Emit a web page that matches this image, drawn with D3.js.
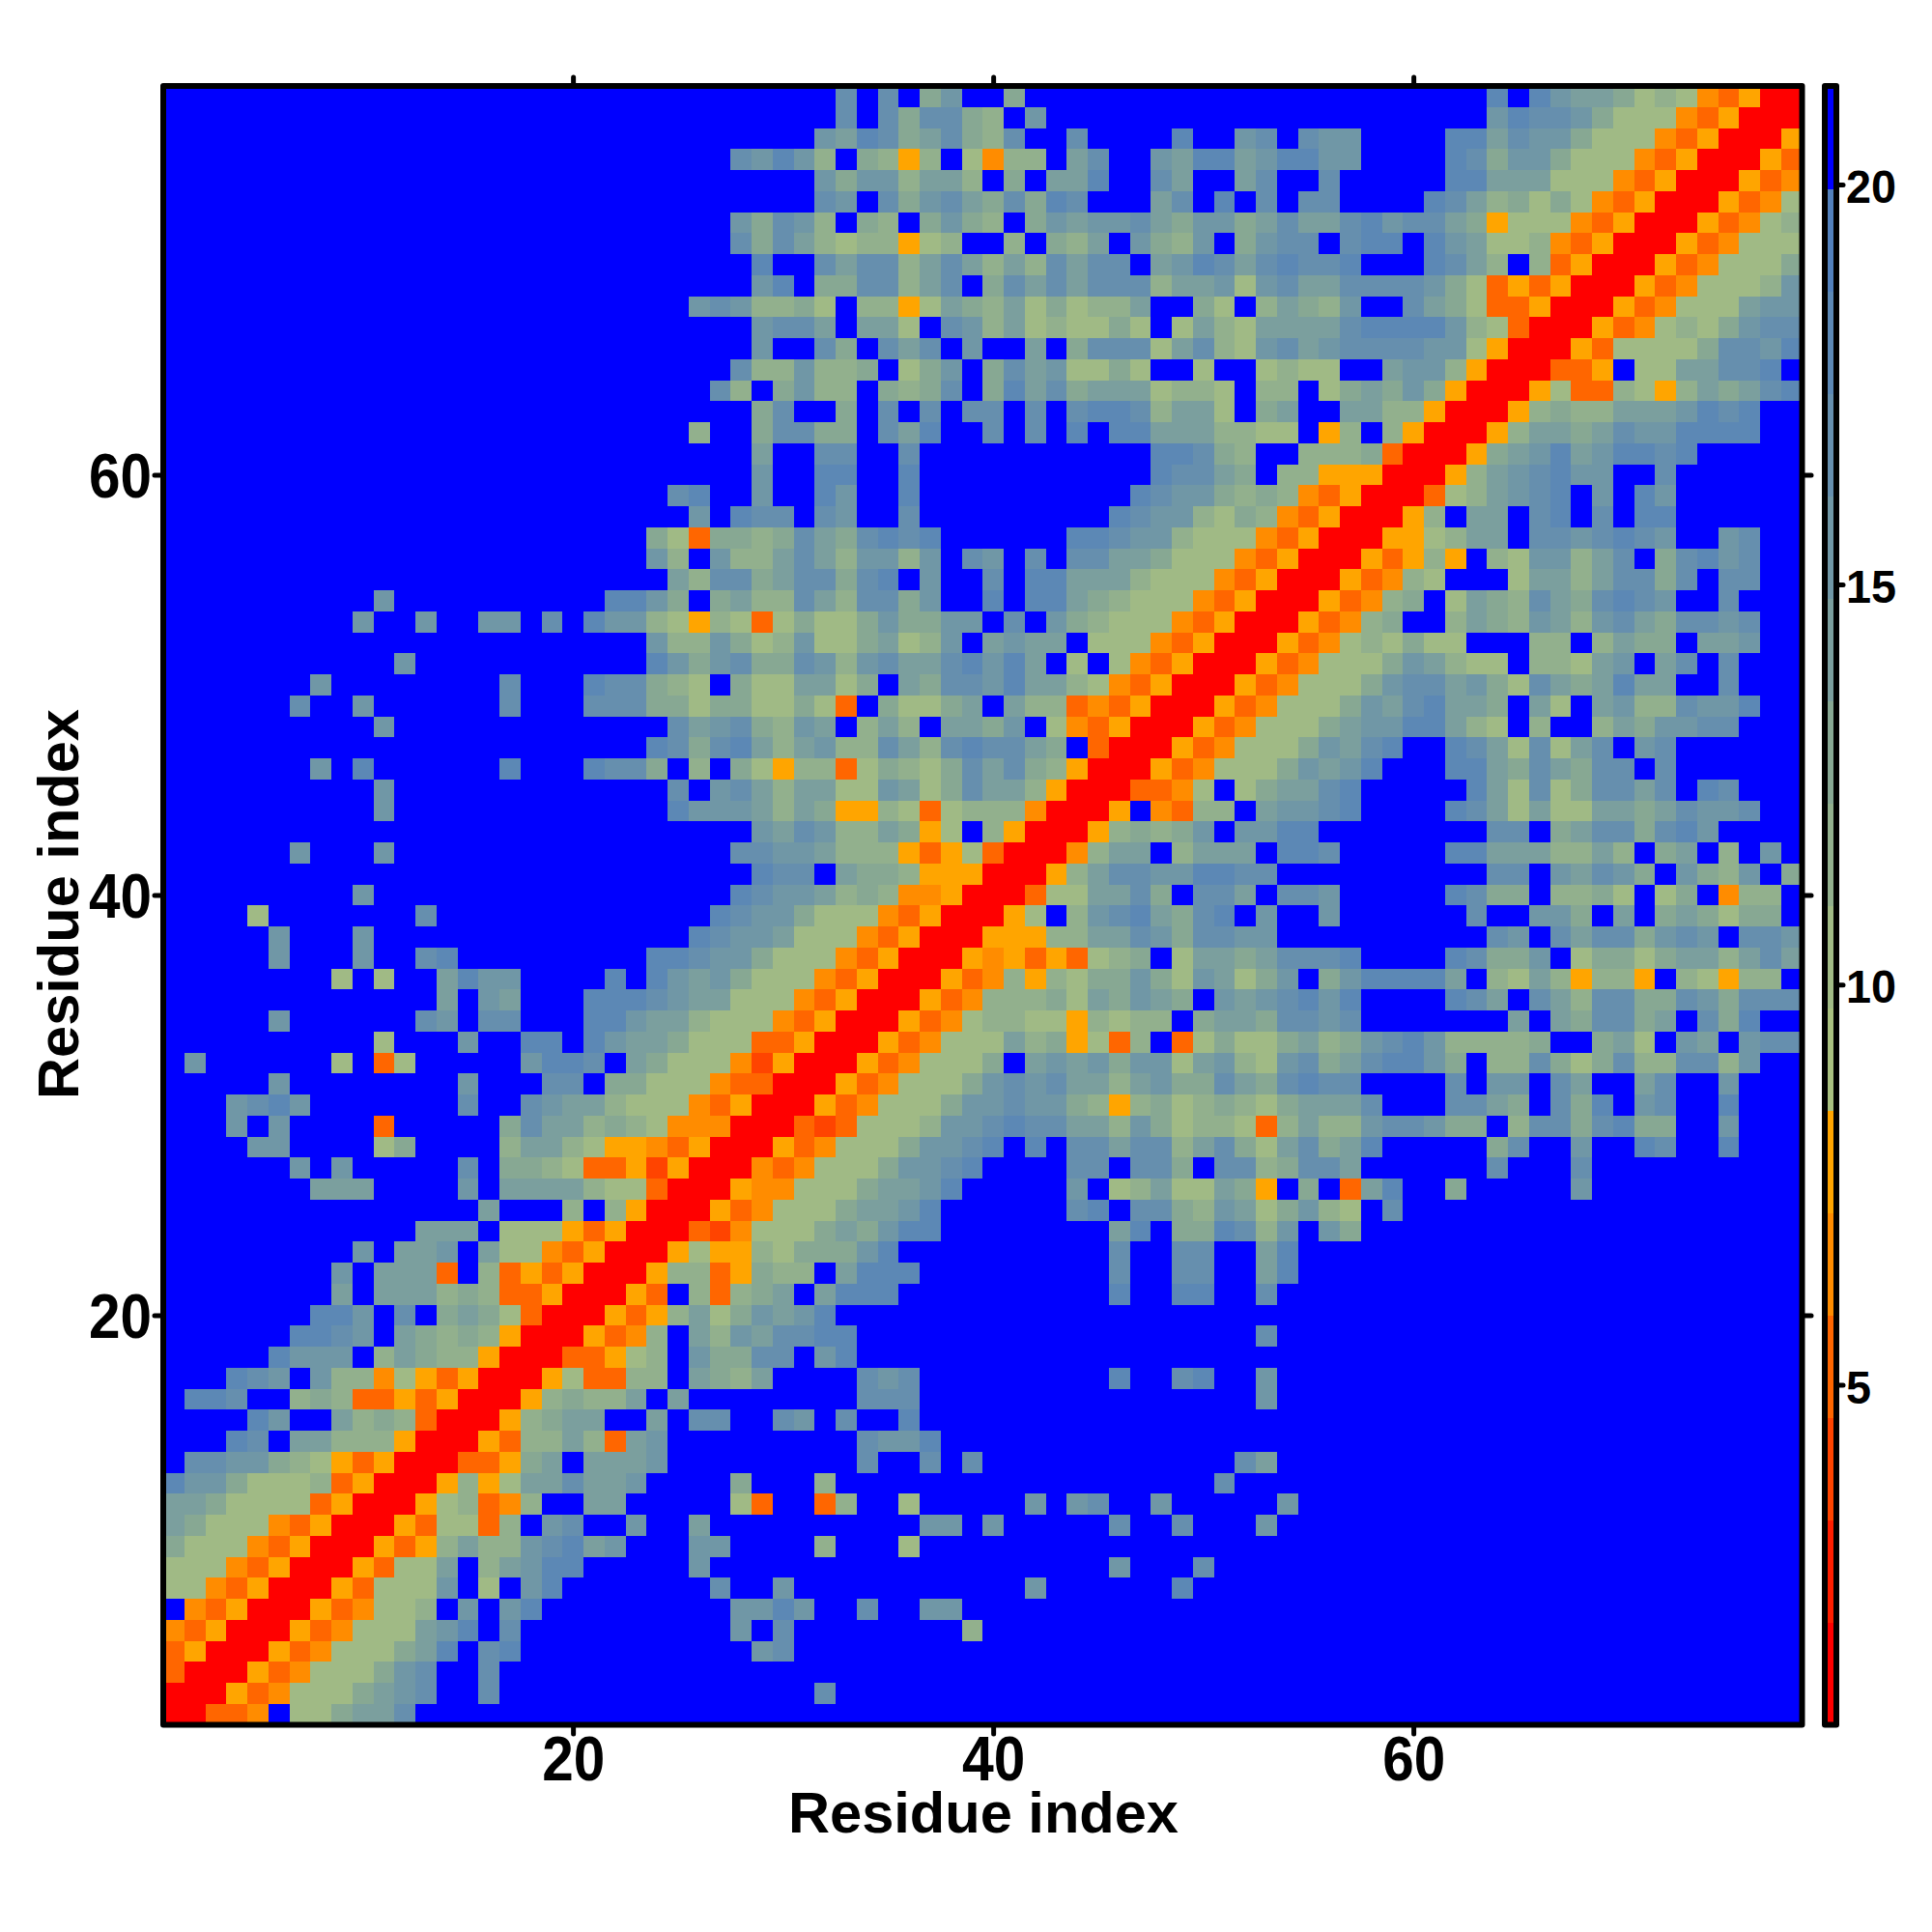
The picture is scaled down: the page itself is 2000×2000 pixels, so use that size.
<!DOCTYPE html>
<html>
<head>
<meta charset="utf-8">
<script src="https://cdnjs.cloudflare.com/ajax/libs/d3/7.8.5/d3.min.js"></script>
<style>html,body{margin:0;padding:0;background:#fff}svg{display:block}</style>
</head>
<body>
<div id="chart"></div>
<script>
// Colour band per cell, top row (residue 78) first, left column (residue 1) first.
// 0 = red ... f = blue. "~N" is a run of N blue cells.
const bandRows = [
"~26 ffffffcfcf9bff9~11 ~11 dfdbaa978743500",
"~26 ffffffcfc9cc98fb~10 ~11 bdccb9777435000",
"~26 fffffbadc9ac98cffcffffdffb cfcbbffffddacbb977743500 05",
"~26 fcbdb8f9858f7488facffbadda bddbbffffdc9bb977743500053",
"~26 fffffb9bb8aa8f9faadffcaffa cffcfffffddaaa777435000534",
"~26 fffffcbfc9bca9c9dcfffacfdf cfccffffdca897974350005347",
"~26 fb9cb8f98f9b98f9babbca9bb9 acaacdbcca9577743500053478",
"~26 fc9ca8788578ff8f98afb98bf9 bccfcddfdba778435000534777",
"~26 ffdffcacc8aca8a8caccfabdca cdccdfffdca8f8350005347779",
"~26 ffbdf99cc8acf9cacaccc8aab7 bcaaccccb9735350005347778b",
"~25 b cb8897f8857a98a79788aff97f 8a98bffca97335000534777abb",
"~26 ffbccafaa7fcb8a787797f7a87 aaaacddddb8730005347879bcc",
"~26 ffbffc9fcacfbffaf9ccc7ac87 bcabccccbb750005377779ccbd",
"~26 fc88b889f79bf9cab7797ff7ff 7877ffabb85000335f77aaccdf",
"~26 c8f9b88f989cf9dac9aaa7887f 88f79a9b9500057338758a9acd",
"~26 ff9cff9fcfcfccfcfcddc8aa7f 9affaa88500058988aaabdcdff",
"~25 8 ff9cc99fcadffcfcfdfddaaa88 77f58f8500058aa9acbbddddff",
"~26 ffaffccffc~11 ddc98 ff8889300059abdabddcd~5 ",
"~26 ffbffddffd~11 dcca9 f88555000 58abcdbbffc~6 ",
"~24 cd ffbffdbffd~10 dcbb98 98435000378abcdfbfdb~6 ",
"~25 b fdccfcbffc~9 dcbb879 843500058faafcdfcfdd~6 ",
"~23 973 9989ca9cdcd~6 ddcbb8777 4350005578aafccbcdcbffbcff",
"~23 b8f b88aca8bb8bfcbfcfccaa97774 3500053585f87bb8acf9cdbcff",
"~24 a8 cc9acc9cdfbffcfddaaa877743 500053487fff7aa8acc9cfccff",
"~10 b~10 ddb9f 9a88ca8cc9bffdfdda98777435 00053489f7a98ca9cdcbffcfff",
"~9 bffbffbbfcfdbb875 87379779b99bbfcfb987774350 0053489ff8a98ba8bca9ccbcff",
"~23 b88 b978b779a78bfabaaf77743500 0534787977fff88f8a99faabff",
"~11 b~11 db9 bc99cb8bcaacdbdaf7f7435000 5347779ba877f887abfacfcfff",
"~7 b~8 cfffdcc987 f977aa79fa9ccbdaa874350005 347779bccab97ca9adaaffcfff",
"~6 cffb~6 cfffccc997 9977973f9779afa88343500053 47779bacdaa9fa7fab88cbbdff",
"~10 b~13 ca bc98baf8a8faa9bf7435000534 7779abbdda87f8ff8a9bbccfff",
"~23 dc9 cda8ab88ca8cdcca9f30005347 779bacdffdca7c7acfbc~6 ",
"~7 bfd~6 dfffdcc9f8 f97588379879cac985000 53477 79babdfffdda9ca9ccfc~6 ",
"~10 b~13 cf bca8aa77ba79caa850003347f7 9aacdfffffda7c79ccacfdcfff",
"~10 b~13 db bba8a955873788840005f4388f abbcdffffdca7a77aa9acbbcff",
"~26 ffbacb88a957f8500058989bfb bdd~8 ccf9acc9cdb~4 ",
"~6 bfffb~15 fccbba888535730 0048aaf8aaa fddcfffffddaaa88a8f9af8fbf",
"~26 ffdccfa99855500058accbbddc c~10 ccfbacb9fb98bf9",
"~9 b~16 fdcbba898445000377aac9fcca fccbfffffdc99f8897f79f488f",
"~4 7~7 c~13 dcbb97774350005 7f8bcda9cdf bffb~6 cffbb9faf9a9799f",
"~5 bfffb~15 d cbba777435000 55588aacb9ccb b~10 cbfcacc9bcbfccb",
"~5 bfffbffcd~9 ddc bb97774350 00545353789f7aa9 acccdffffdc99bf79979aa8aca",
"~8 7f7ffadbb~4 dfdba b97774350005348 58799b97ba7 9bf9bddddaf87a85885f87588f",
"~13 afba~3 dddcba a777435000 53488897a9ba9fba bcdbdffffdcafca8cc99cb9ccc",
"~5 b~6 cbfccfffddbaa8 7774350005 34788775 8788f9aa 9ccbc~7 afa9cc9afc9dff",
"~10 7fffbffddfdbaa97 7733500053 4777a895738f3797 79a89bcdb88889ff9a7fbafbcc",
"fb~6 7f37~5 bddcfa977 7425000534 7779fabab9bb7ab8 7bc9acddb9f88c979c88cc8bff",
"~5 b~8 bfffccf99777 4330005347 779bcbcaa8ab99ca 9cdccffffcfbbfcaffacffbfff",
"fffbcdb~7 cffcbaa87774 3500053477 79bbcbb98589789 8 79aaacfffcca9fc9dfbcffdfff",
"fffbfb~4 3~5 9caa898744 4000323777 8bbcdccaa8b97887 38a88bccb99f8cc9cd99ffbfff",
"ffffbb~4 79~4 8aa8755435 0005347779 bbcdfdfccacc8ac9 7ac9adffff f9cffbffdcffdfff",
"~6 bfb~5 cf9987335250 004347779b bcdffffccfcc9fcc 8 9cca~6 c~3 c~10 ",
"~7 aaa~4 bfaaaa877300 05447779aabd~5 bf78a77a9 5f9f3adff9~5 b~10 ",
"~15 a~3 8f85000 53477 79aabd~6 cdfcc98ba 79b87fc~19 ",
"~12 aaaf7775350003 247779a9bdd~8 adf99dc 8bfb9~21 ",
"~9 bfaabfa774350005 7 5587999bd~10 cffccff ad~24 ",
"~8 bfaaa3f83535000588 35988fadd d~9 cffccff ad~24 ",
"~8 afaaa898335000 53f8 389afaddd~10 dffddff c~25 ",
"~7 ddbfcf9a97300053 58a 79babd~20 ~26 ",
"~6 ddcbfa98985000534 8fa 8bacc dd~19 c~25 ",
"~5 dbbbf8a98850003 3578fb 99ccfbd~19 ~26 ",
"fffdcbfb8847535000 57338 8fa 98a~4 cbc~9 dffcdff b~25 ",
"fddcff8983353 5000 5898 8afaf ~7 ccc~16 b~25 ",
"~4 dbffa89830005 89aaffafc cffcbfcffd~16 ~26 ",
"fffdcfaa888 5000 5 3 88a83abff ~7 cbbd~15 ~26 ",
"fccbb98753500 0335 9afaaabff ~7 cffcfc~12 c a~25 ",
"dbb97778 35000 585 7aacaabfff f9fff8~18 cf ~26 ",
"aa97777 35000 578 348ffaaffff f73ff38ff7fffffbfbcffbffff fb~24 ",
"a9777435000 5377 38fbcffbffa ~10 bbfb~5 cffc~3 b~25 ",
"9777435000 5358a88bcdabfffb bffff8fff7~16 ~26 ",
"777435000 5377af8abdd~5 b ~19 bfffcff ~26 ",
"77435000 53777bf7fbd~7 cffb~11 b~6 dfff ~26 ",
"f435000 534778fbfbd~8 fbbdbffcffbb~14 ~26 ",
"435000 534777abdfc~9 fbfc~8 8~13 ~26 ",
"35000 534777 9adfcd~9 ffbc~22 ~26 ",
"3000 534777 9bcffc~10 ~26 ~26 ",
"000 534777 9abcffc~10 ~5 c~20 ~26 ",
"00334f779aac~14 ~26 ~26 "
];

const colors = ["#FF0000","#FF1E00","#FF4400","#FF6600","#FF8C00","#FFA500",
  "#A8C07F","#A0BA85","#92B08D","#87A893","#7B9F9E","#7097A6","#668FAE","#5C88B5","#5280BC","#0000FF"];
const valueMin = 0.78, valueMax = 21.26;
const residueTicks = [20, 40, 60];
const legendTicks = [5, 10, 15, 20];
const axisTitle = "Residue index";

const bandWidth = (valueMax - valueMin) / colors.length;
const matrix = bandRows.map(r => {
  const s = r.replace(/~(\d+)/g, (m, n) => "f".repeat(+n)).replace(/\s+/g, "");
  const a = Array.from(s.padEnd(78, "f").slice(0, 78));
  return a.map(ch => valueMin + bandWidth * (parseInt(ch, 16) + 0.5));
});
const cells = matrix.flatMap((row, i) => row.map((v, j) => ({res1: j + 1, res2: 78 - i, v})));

const svg = d3.select("#chart").append("svg").attr("width", 2000).attr("height", 2000);
const x = d3.scaleLinear().domain([0.5, 78.5]).range([169, 1865.5]);
const y = d3.scaleLinear().domain([0.5, 78.5]).range([1785.5, 89]);
const color = d3.scaleQuantize().domain([valueMin, valueMax]).range(colors);

svg.append("g").attr("shape-rendering", "crispEdges").selectAll("rect").data(cells).join("rect")
  .attr("x", d => x(d.res1 - 0.5)).attr("y", d => y(d.res2 + 0.5))
  .attr("width", d => x(d.res1 + 0.5) - x(d.res1 - 0.5) + 0.5)
  .attr("height", d => y(d.res2 - 0.5) - y(d.res2 + 0.5) + 0.5)
  .attr("fill", d => color(d.v));

const font = "'Liberation Sans', Arial, sans-serif";
function styleAxis(g, fs, len, dy) {
  g.select(".domain").remove();
  g.selectAll(".tick line").attr("stroke", "#000").attr("stroke-width", 5).attr("stroke-linecap", "round");
  g.selectAll(".tick text").attr("fill", "#000").attr("font-family", font).attr("font-weight", "bold")
    .attr("font-size", fs)
    .each(function () {
      if (this.textContent) {
        const t = d3.select(this).attr("textLength", this.textContent.length * len).attr("lengthAdjust", "spacingAndGlyphs");
        if (dy) t.attr("dy", dy);
      }
    });
}
svg.append("g").attr("transform", "translate(0,1786)")
  .call(d3.axisBottom(x).tickValues(residueTicks).tickSize(9).tickPadding(3))
  .call(g => styleAxis(g, 64, 32.5));
svg.append("g").attr("transform", "translate(0,89)")
  .call(d3.axisTop(x).tickValues(residueTicks).tickSize(9).tickFormat(""))
  .call(g => styleAxis(g, 64, 32.5));
svg.append("g").attr("transform", "translate(169,0)")
  .call(d3.axisLeft(y).tickValues(residueTicks).tickSize(9).tickPadding(3))
  .call(g => styleAxis(g, 64, 32.5, "0.36em"));
svg.append("g").attr("transform", "translate(1866,0)")
  .call(d3.axisRight(y).tickValues(residueTicks).tickSize(9).tickFormat(""))
  .call(g => styleAxis(g, 64, 32.5));

svg.append("rect").attr("x", 169).attr("y", 89).attr("width", 1696.5).attr("height", 1696.5)
  .attr("fill", "none").attr("stroke", "#000").attr("stroke-width", 6).attr("stroke-linejoin", "round");

// Colour bar
const lg = d3.scaleLinear().domain([valueMin - 0.03, valueMax - 0.03]).range([1785.5, 89]);
const barX0 = 1889, barX1 = 1901;
svg.append("g").attr("shape-rendering", "crispEdges").selectAll("rect").data(colors).join("rect")
  .attr("x", barX0).attr("width", barX1 - barX0)
  .attr("y", (d, i) => lg(valueMin - 0.03 + bandWidth * (i + 1)))
  .attr("height", bandWidth * (1696.5 / (valueMax - valueMin)) + 0.5)
  .attr("fill", d => d);
svg.append("rect").attr("x", barX0).attr("y", 89).attr("width", barX1 - barX0).attr("height", 1696.5)
  .attr("fill", "none").attr("stroke", "#000").attr("stroke-width", 6).attr("stroke-linejoin", "round");
svg.append("g").attr("transform", `translate(${barX1},0)`)
  .call(d3.axisRight(lg).tickValues(legendTicks).tickSize(7).tickPadding(3))
  .call(g => styleAxis(g, 48, 26, "0.39em"));

svg.append("text").attr("x", 1018).attr("y", 1897).attr("text-anchor", "middle")
  .attr("font-family", font).attr("font-weight", "bold").attr("font-size", 59.6).text(axisTitle);
svg.append("text").attr("transform", "translate(81,936) rotate(-90)").attr("text-anchor", "middle")
  .attr("font-family", font).attr("font-weight", "bold").attr("font-size", 59.6).text(axisTitle);
</script>
</body>
</html>
